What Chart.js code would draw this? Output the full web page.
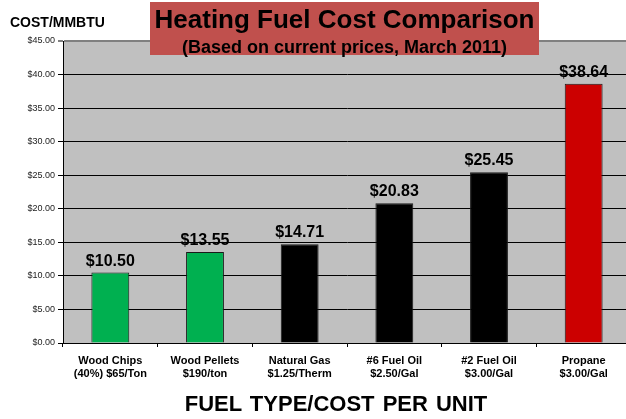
<!DOCTYPE html>
<html>
<head>
<meta charset="utf-8">
<script src="https://cdn.jsdelivr.net/npm/chart.js@4.4.1/dist/chart.umd.min.js"></script>
<style>
    html, body { margin: 0; padding: 0; overflow: hidden; background: #ffffff; }
    body { width: 626px; height: 419px; font-family: "Liberation Sans", Arial, sans-serif; }
    #wrap { position: relative; width: 632px; height: 419px; }
    #fuelChart { position: absolute; left: 0; top: 0; }
    .txt { position: absolute; font-weight: bold; color: #000; white-space: nowrap; }
    #titleBox { position: absolute; left: 150px; top: 2px; width: 389px; height: 53px; background: #C0504D; }
</style>
</head>
<body>
<div id="wrap">
    <canvas id="fuelChart" width="632" height="419"></canvas>
    <div class="txt" style="left:10px; top:15px; font-size:14px; line-height:14px;">COST/MMBTU</div>
    <div id="titleBox">
        <div class="txt" style="left:0; width:389px; text-align:center; top:4px; font-size:26px; line-height:26px;">Heating Fuel Cost Comparison</div>
        <div class="txt" style="left:0; width:389px; text-align:center; top:36px; font-size:18px; line-height:18px;">(Based on current prices, March 2011)</div>
    </div>
    <div class="txt" style="left:36px; width:600px; text-align:center; top:393px; font-size:22px; line-height:22px; word-spacing:2px;">FUEL TYPE/COST PER UNIT</div>
</div>
<script>
// chart data
var fuelLabels = [
    ["Wood Chips", "(40%) $65/Ton"],
    ["Wood Pellets", "$190/ton"],
    ["Natural Gas", "$1.25/Therm"],
    ["#6 Fuel Oil", "$2.50/Gal"],
    ["#2 Fuel Oil", "$3.00/Gal"],
    ["Propane", "$3.00/Gal"]
];
var costPerMMBTU = [10.50, 13.55, 14.71, 20.83, 25.45, 38.64];
var barColors = ['#00B050', '#00B050', '#000000', '#000000', '#000000', '#CC0000'];
var yMin = 0;
var yMax = 45;
var yStep = 5;

Chart.defaults.font.family = '"Liberation Sans", Arial, sans-serif';
Chart.defaults.color = '#000';

// grey plot background
var plotBackground = {
    id: 'plotBackground',
    beforeDraw: function (chart) {
        var a = chart.chartArea;
        var c = chart.ctx;
        c.save();
        c.fillStyle = '#C0C0C0';
        c.fillRect(a.left, a.top, a.right - a.left, a.bottom - a.top);
        c.restore();
    }
};

// dollar values over the bars
var barValues = {
    id: 'barValues',
    afterDatasetsDraw: function (chart) {
        var c = chart.ctx;
        var meta = chart.getDatasetMeta(0);
        c.save();
        c.font = 'bold 16px "Liberation Sans", Arial, sans-serif';
        c.fillStyle = '#000';
        c.textAlign = 'center';
        c.textBaseline = 'alphabetic';
        meta.data.forEach(function (bar, i) {
            c.fillText('$' + costPerMMBTU[i].toFixed(2), bar.x, bar.y - 7);
        });
        c.restore();
    }
};

var ctx = document.getElementById('fuelChart').getContext('2d');
var chart = new Chart(ctx, {
    type: 'bar',
    data: {
        labels: fuelLabels,
        datasets: [{
            data: costPerMMBTU,
            backgroundColor: barColors,
            borderColor: '#1a1a1a',
            borderWidth: 1,
            barPercentage: 0.4,
            categoryPercentage: 1.0
        }]
    },
    options: {
        responsive: false,
        animation: false,
        devicePixelRatio: 1,
        layout: {
            padding: { left: 0, right: 1, top: 41, bottom: 0 }
        },
        plugins: {
            legend: { display: false },
            tooltip: { enabled: false }
        },
        scales: {
            x: {
                grid: {
                    offset: true,
                    drawOnChartArea: false,
                    color: '#000',
                    tickLength: 4
                },
                border: { color: '#000', width: 1 },
                ticks: {
                    font: { size: 11, weight: 'bold' },
                    color: '#000',
                    padding: 7,
                    maxRotation: 0
                },
                afterFit: function (scale) { scale.height = 76; }
            },
            y: {
                min: yMin,
                max: yMax,
                ticks: {
                    stepSize: yStep,
                    font: { size: 9 },
                    color: '#222',
                    padding: 3,
                    callback: function (v) { return '$' + v.toFixed(2); }
                },
                grid: {
                    color: function (c) { return c.tick && c.tick.value === yMax ? '#808080' : '#000'; },
                    lineWidth: function (c) { return c.tick && c.tick.value === yMax ? 2 : 1; },
                    tickLength: 5
                },
                border: { color: '#000', width: 1 },
                afterFit: function (scale) { scale.width = 63; }
            }
        }
    },
    plugins: [plotBackground, barValues]
});
</script>
</body>
</html>
